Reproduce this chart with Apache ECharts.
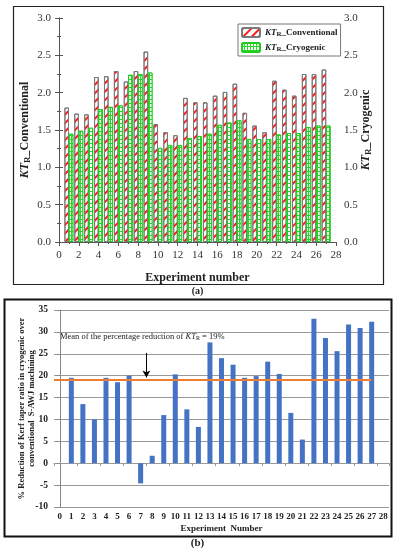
<!DOCTYPE html>
<html><head><meta charset="utf-8">
<script src="https://cdn.jsdelivr.net/npm/echarts@6/dist/echarts.min.js"></script>
<style>html,body{margin:0;padding:0;background:#fff}#c{width:395px;height:550px}</style>
</head><body><div id="c"></div>
<script>
// ---- data ----
const expNo = [1,2,3,4,5,6,7,8,9,10,11,12,13,14,15,16,17,18,19,20,21,22,23,24,25,26,27];
const ktConventional = [1.80,1.72,1.71,2.21,2.22,2.29,2.15,2.29,2.55,1.58,1.47,1.43,1.93,1.87,1.87,1.96,2.01,2.12,1.73,1.56,1.47,2.16,2.04,1.96,2.25,2.25,2.31];
const ktCryogenic = [1.45,1.49,1.53,1.78,1.81,1.83,2.24,2.25,2.27,1.26,1.30,1.30,1.39,1.42,1.45,1.57,1.60,1.63,1.38,1.38,1.38,1.44,1.46,1.46,1.54,1.56,1.56];
const expCategoriesB = ['0','1','2','3','4','5','6','7','8','9','10','11','12','13','14','15','16','17','18','19','20','21','22','23','24','25','26','27','28'];
const reductionPct = [null,19.5,13.5,10,19.5,18.5,20,-4.6,1.7,11,20.3,12.3,8.3,27.6,24,22.5,19.5,19.9,23.2,20.4,11.5,5.4,33,28.6,25.6,31.7,30.9,32.3,null];
const meanReduction = 19;
const meanLineSpan = [-0.5, 27];
const arrowX = 7.5, arrowFrom = 25.2, arrowTo = 19.6;

const serif = 'Liberation Serif';
const chart = echarts.init(document.getElementById('c'), null, {renderer:'canvas'});
const rich = {
  i:{fontStyle:'italic', fontWeight:'bold', fontFamily:serif, fontSize:12, color:'#222'},
  s:{fontWeight:'bold', fontFamily:serif, fontSize:9, color:'#222', padding:[5,0,0,0]},
  t:{fontWeight:'bold', fontFamily:serif, fontSize:12, color:'#222'}
};
const legRich = {
  i:{fontStyle:'italic', fontWeight:'bold', fontFamily:serif, fontSize:9, color:'#222'},
  s:{fontWeight:'bold', fontFamily:serif, fontSize:7, color:'#222', padding:[4,0,0,0]},
  t:{fontWeight:'bold', fontFamily:serif, fontSize:9, color:'#222'}
};
const axLine = {lineStyle:{color:'#555', width:1}};
const tickLbl = {fontFamily:serif, fontSize:11, color:'#333'};

const convDecal = {symbol:'rect', symbolSize:1, color:'#ff1a1a', dashArrayX:[1,0], dashArrayY:[1.5,4], rotation:-Math.PI/4};
const cryoDecal = {symbol:'rect', symbolSize:1, color:'#ffffff', dashArrayX:[2,1], dashArrayY:[3,1], rotation:0};

chart.setOption({
  animation:false,
  grid:[
    {left:59, right:59, top:18, bottom:308},
    {left:54, right:6, top:310, bottom:43}
  ],
  legend:{
    left:238, top:24, orient:'vertical', itemWidth:18, itemHeight:9, itemGap:4,
    padding:[3,3,3,3], borderColor:'#777', borderWidth:1, backgroundColor:'#fff',
    data:['conv','cryo'],
    formatter:function(n){return n==='conv'?'{i|KT}{s|R}{t|_Conventional}':'{i|KT}{s|R}{t|_Cryogenic}';},
    textStyle:{rich:legRich}
  },
  xAxis:[
    {gridIndex:0, type:'value', min:0, max:28, interval:2, position:'bottom',
     name:'Experiment number', nameLocation:'middle', nameGap:30,
     nameTextStyle:{fontFamily:serif, fontWeight:'bold', fontSize:12, color:'#222'},
     axisLine:axLine, axisTick:{show:true, length:4, lineStyle:{color:'#555'}},
     minorTick:{show:true, splitNumber:2, length:2, lineStyle:{color:'#555'}},
     splitLine:{show:false}, axisLabel:tickLbl},
    {gridIndex:0, type:'value', min:0, max:28, interval:2, position:'top',
     axisLine:axLine, axisTick:{show:true, inside:true, length:4, lineStyle:{color:'#555'}},
     minorTick:{show:true, splitNumber:2, length:2, lineStyle:{color:'#555'}},
     splitLine:{show:false}, axisLabel:{show:false}},
    {gridIndex:1, type:'category', data:expCategoriesB, position:'bottom',
     axisLine:{show:false, onZero:false}, axisTick:{show:false},
     axisLabel:{fontFamily:serif, fontWeight:'bold', fontSize:9, color:'#222', margin:5, interval:0},
     name:'Experiment  Number', nameLocation:'middle', nameGap:17,
     nameTextStyle:{fontFamily:serif, fontWeight:'bold', fontSize:9, color:'#222'}},
    {gridIndex:1, type:'category', data:expCategoriesB, position:'bottom',
     axisLine:{show:true, onZero:true, lineStyle:{color:'#999', width:1}},
     axisTick:{show:true, length:3, lineStyle:{color:'#999'}}, axisLabel:{show:false}},
    {gridIndex:1, type:'value', min:-0.5, max:28.5, show:false}
  ],
  yAxis:[
    {gridIndex:0, type:'value', min:0, max:3, interval:0.5, position:'left',
     name:'{i|KT}{s|R}{t|_Conventional}', nameLocation:'middle', nameGap:27, nameRotate:90,
     nameMoveOverlap:false,
     nameTextStyle:{rich:rich},
     axisLine:{show:true, lineStyle:{color:'#555'}}, axisTick:{show:true, length:4, lineStyle:{color:'#555'}},
     minorTick:{show:true, splitNumber:2, length:2, lineStyle:{color:'#555'}},
     splitLine:{show:false}, axisLabel:Object.assign({formatter:v=>v.toFixed(1)}, tickLbl)},
    {gridIndex:0, type:'value', min:0, max:3, interval:0.5, position:'right',
     name:'{i|KT}{s|R}{t|_Cryogenic}', nameLocation:'middle', nameGap:23, nameRotate:90,
     nameMoveOverlap:false,
     nameTextStyle:{rich:rich},
     axisLine:{show:true, lineStyle:{color:'#555'}}, axisTick:{show:true, length:4, lineStyle:{color:'#555'}},
     minorTick:{show:true, splitNumber:2, length:2, lineStyle:{color:'#555'}},
     splitLine:{show:false}, axisLabel:Object.assign({formatter:v=>v.toFixed(1)}, tickLbl)},
    {gridIndex:1, type:'value', min:-10, max:35, interval:5,
     name:'% Reduction of Kerf taper ratio in cryogenic over\nconventional  S-AWJ machining',
     nameLocation:'middle', nameGap:17, nameRotate:90, nameMoveOverlap:false,
     nameTextStyle:{fontFamily:serif, fontWeight:'bold', fontSize:8.5, color:'#222', lineHeight:10},
     axisLine:{show:true, lineStyle:{color:'#888'}}, axisTick:{show:true, length:3, lineStyle:{color:'#888'}},
     splitLine:{show:true, lineStyle:{color:'#999', width:1}},
     axisLabel:{fontFamily:serif, fontWeight:'bold', fontSize:9.5, color:'#222', margin:6}}
  ],
  series:[
    {name:'conv', type:'bar', xAxisIndex:0, yAxisIndex:0, barWidth:4.6, barGap:'-5%',
     data:expNo.map((x,i)=>[x, ktConventional[i]]),
     itemStyle:{color:'#ffffff', borderColor:'#7a7a7a', borderWidth:1, decal:convDecal}},
    {name:'cryo', type:'bar', xAxisIndex:0, yAxisIndex:0, barWidth:4.6, barGap:'-5%',
     data:expNo.map((x,i)=>[x, ktCryogenic[i]]),
     itemStyle:{color:'#2ad82a', borderColor:'#1fcc1f', borderWidth:1, decal:cryoDecal}},
    {name:'reduction', type:'bar', xAxisIndex:2, yAxisIndex:2, barWidth:5,
     data:reductionPct, itemStyle:{color:'#4472C4'}},
    {name:'mean', type:'line', xAxisIndex:4, yAxisIndex:2, symbol:'none',
     data:meanLineSpan.map(x=>[x, meanReduction]),
     lineStyle:{color:'#ED7D31', width:2}, z:5,
     markLine:{silent:true, symbol:['none','arrow'], symbolSize:[6,7], label:{show:false},
       lineStyle:{color:'#000', width:1, type:'solid'},
       data:[[{coord:[arrowX, arrowFrom]},{coord:[arrowX, arrowTo]}]]}}
  ],
  graphic:[
    {type:'rect', shape:{x:13.5, y:6.5, width:370, height:278}, style:{fill:'none', stroke:'#222', lineWidth:1.2}, silent:true, z:-1},
    {type:'rect', shape:{x:4.5, y:299.5, width:387, height:237}, style:{fill:'none', stroke:'#111', lineWidth:2}, silent:true, z:-1},
    {type:'text', left:'center', top:286, style:{text:'(a)', font:'bold 10px "Liberation Serif"', fill:'#222'}},
    {type:'text', left:'center', top:538, style:{text:'(b)', font:'bold 11px "Liberation Serif"', fill:'#222'}},
    {type:'text', left:60, top:332, style:{
      text:'{n|Mean of the percentage reduction of }{i|KT}{s|R}{n| = 19%}',
      rich:{n:{fontFamily:serif, fontSize:8.5, fill:'#222'}, i:{fontFamily:serif, fontStyle:'italic', fontSize:8.5, fill:'#222'}, s:{fontFamily:serif, fontSize:6, fill:'#222', padding:[3,0,0,0]}}}}
  ]
});
</script></body></html>
